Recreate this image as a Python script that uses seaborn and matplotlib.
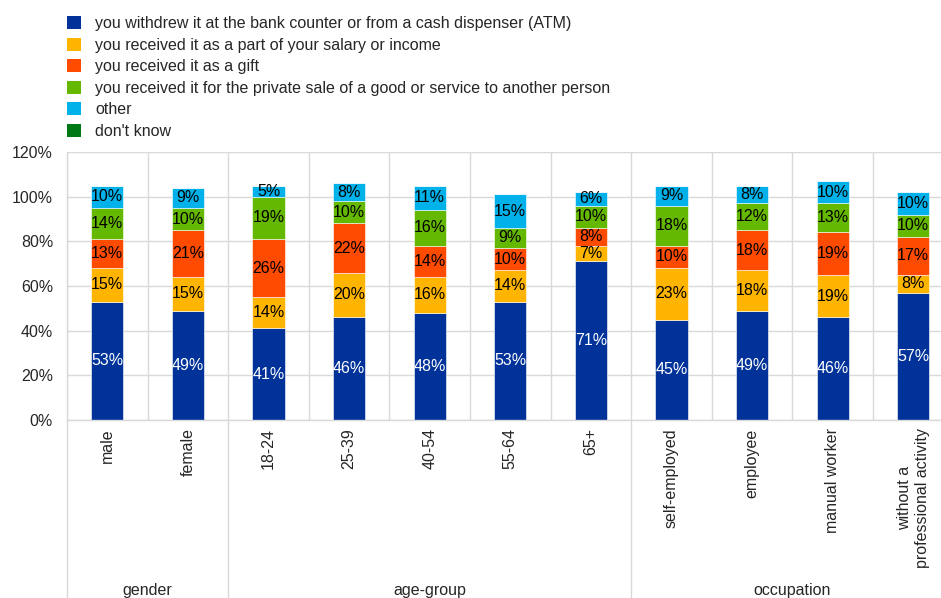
import numpy as np
import pandas as pd
import matplotlib
matplotlib.use("Agg")
import matplotlib.pyplot as plt
import matplotlib.transforms as mtransforms
from matplotlib.patches import Patch
import seaborn as sns

# ---------------- data ----------------
categories = ["male", "female", "18-24", "25-39", "40-54", "55-64", "65+",
              "self-employed", "employee", "manual worker",
              "without a\nprofessional activity"]
groups = ["gender", "age-group", "occupation"]
group_sizes = [2, 5, 4]

series_names = [
    "you withdrew it at the bank counter or from a cash dispenser (ATM)",
    "you received it as a part of your salary or income",
    "you received it as a gift",
    "you received it for the private sale of a good or service to another person",
    "other",
    "don't know",
]
atm = [53, 49, 41, 46, 48, 53, 71, 45, 49, 46, 57]
salary = [15, 15, 14, 20, 16, 14, 7, 23, 18, 19, 8]
gift = [13, 21, 26, 22, 14, 10, 8, 10, 18, 19, 17]
private_sale = [14, 10, 19, 10, 16, 9, 10, 18, 12, 13, 10]
other = [10, 9, 5, 8, 11, 15, 6, 9, 8, 10, 10]
dont_know = [0, 0, 0, 0, 0, 0, 0, 0, 0, 0, 0]
colors = ["#003299", "#FFB400", "#FF4B00", "#65B800", "#00B1EA", "#007816"]
series_values = [atm, salary, gift, private_sale, other, dont_know]

# ---------------- style ----------------
sns.set_style("white")
plt.rcParams["font.family"] = ["Liberation Sans", "DejaVu Sans"]
FS = 11.5

W, H = 941, 598
fig = plt.figure(figsize=(W / 100, H / 100), dpi=100)
ax_left, ax_bottom, ax_top = 67, 420, 152
cat_w = 80.6
ax_w = cat_w * len(categories)
ax = fig.add_axes([ax_left / W, 1 - ax_bottom / H, ax_w / W, (ax_bottom - ax_top) / H])

df_rows = []
for name, vals in zip(series_names, series_values):
    for c, v in zip(categories, vals):
        df_rows.append({"category": c, "series": name, "value": v})
df = pd.DataFrame(df_rows)

bottom = np.zeros(len(categories))
for i, (name, col) in enumerate(zip(series_names, colors)):
    sub = df[df["series"] == name]
    vals = sub["value"].to_numpy(dtype=float)
    sns.barplot(data=sub, x="category", y="value", order=categories,
                color=col, saturation=1, width=0.4, bottom=bottom,
                edgecolor="white", linewidth=0.4, ax=ax, errorbar=None)
    cont = ax.containers[-1]
    if name != "don't know":
        ax.bar_label(cont, labels=[f"{int(v)}%" for v in vals],
                     label_type="center", fontsize=FS,
                     color="white" if i == 0 else "black")
    bottom = bottom + vals

ax.set_xlim(-0.5, len(categories) - 0.5)
ax.set_ylim(0, 120)
ax.set_yticks(np.arange(0, 121, 20))
ax.set_yticklabels([f"{t}%" for t in range(0, 121, 20)], fontsize=FS)
ax.set_xticks(range(len(categories)))
ax.set_xticklabels(categories, rotation=90, fontsize=FS, va="top", ha="center",
                   multialignment="center")
ax.tick_params(axis="both", length=0)
ax.tick_params(axis="x", pad=6)
ax.tick_params(axis="y", pad=10)
ax.set_xlabel("")
ax.set_ylabel("")

grid_col = "#D9D9D9"
ax.set_xticks(np.arange(-0.5, len(categories), 1), minor=True)
ax.grid(axis="y", which="major", color=grid_col, linewidth=1)
ax.grid(axis="x", which="minor", color=grid_col, linewidth=1)
ax.set_axisbelow(True)
for s in ["top", "right"]:
    ax.spines[s].set_visible(False)
for s in ["left", "bottom"]:
    ax.spines[s].set_color(grid_col)
    ax.spines[s].set_linewidth(1)

# group separators and labels below axis
trans = mtransforms.blended_transform_factory(ax.transData, ax.transAxes)
ax_h = ax_bottom - ax_top
y_low = -(H - ax_bottom) / ax_h
bounds = np.concatenate([[0], np.cumsum(group_sizes)]) - 0.5
for b in bounds:
    ax.plot([b, b], [0, y_low], transform=trans, color=grid_col, lw=1, clip_on=False)
for g, lo, hi in zip(groups, bounds[:-1], bounds[1:]):
    ax.text((lo + hi) / 2, -(590 - ax_bottom) / ax_h, g, transform=trans,
            ha="center", va="center", fontsize=FS)

# legend
handles = [Patch(facecolor=c, edgecolor="none") for c in colors]
fig.legend(handles, series_names, loc="upper left",
           bbox_to_anchor=(67 / W, 1 - 16 / H), frameon=False, fontsize=FS,
           handlelength=0.9, handleheight=0.9, handletextpad=0.85,
           labelspacing=0.4, borderaxespad=0, borderpad=0)

fig.savefig("out.png", dpi=100)
